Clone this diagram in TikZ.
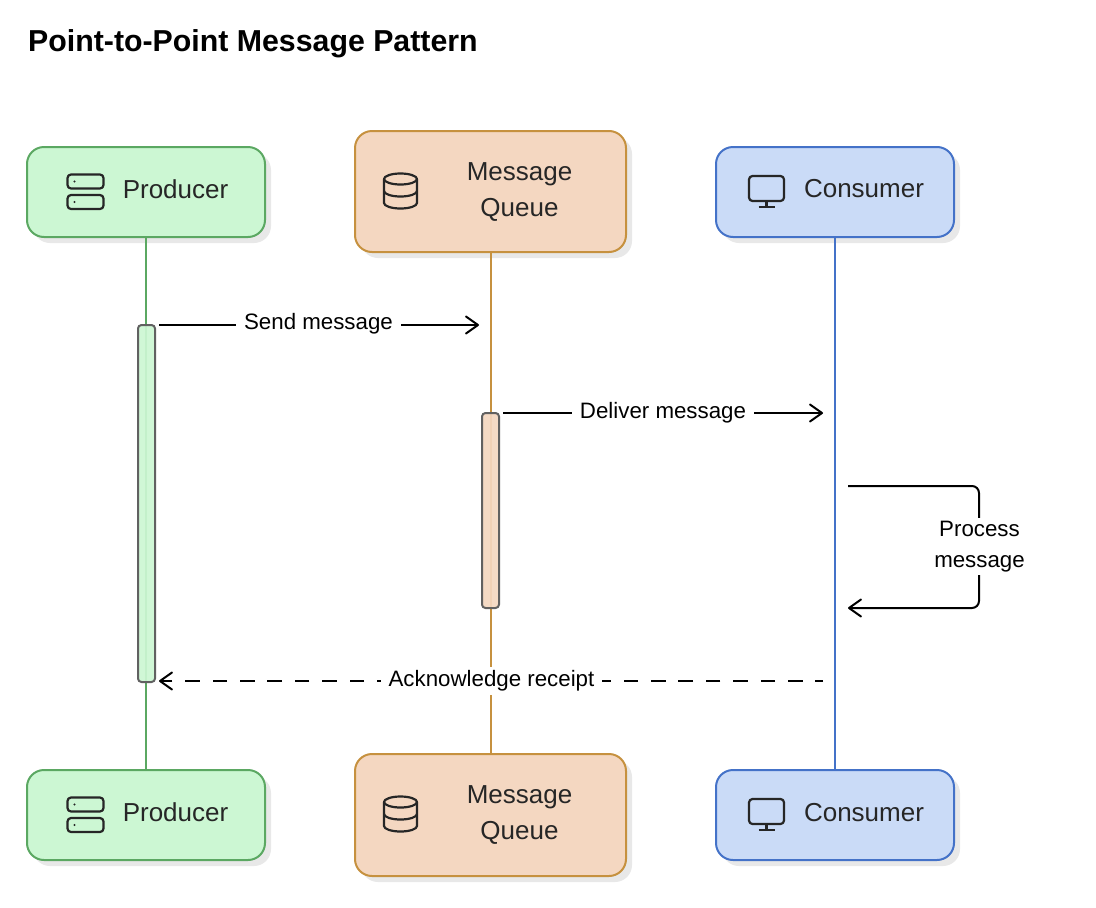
\documentclass[tikz,border=0pt]{standalone}
\usepackage{fontspec}
\setmainfont{Liberation Sans}
\usetikzlibrary{arrows.meta,positioning,calc}
\definecolor{gfill}{HTML}{CCF7D3}
\definecolor{gline}{HTML}{5BA862}
\definecolor{ofill}{HTML}{F4D7C1}
\definecolor{oline}{HTML}{C6913F}
\definecolor{bfill}{HTML}{CADBF7}
\definecolor{bline}{HTML}{4472C8}
\definecolor{ink}{HTML}{262626}
\definecolor{shade}{HTML}{E8E8E8}
\tikzset{
  x=1pt,y=-1pt,
  actor/.style={draw,line width=2pt,rounded corners=17pt,inner sep=0pt,
    minimum width=#1,anchor=center},
  actorshadow/.style={fill=shade,rounded corners=17pt,inner sep=0pt},
  lifeline/.style={line width=2pt},
  activation/.style={draw=black!62,line width=2pt,rounded corners=3.5pt,inner sep=0pt,
    minimum width=17pt,fill opacity=0.92,draw opacity=1},
  msg/.style={draw=black,line width=2pt,-{Straight Barb[round,length=12pt,width=17pt,line width=2pt]}},
  lbl/.style={fill=white,font=\fontsize{22.3pt}{31pt}\selectfont,text=black,inner xsep=8pt,inner ysep=3.5pt,align=center},
  atext/.style={font=\fontsize{26pt}{36pt}\selectfont,text=ink,inner sep=0pt,align=center},
  icon/.style={draw=ink,line width=2.2pt,line join=round},
  pics/servericon/.style={code={
    \draw[icon,rounded corners=3.5pt] (-18,-15.5) rectangle (18,-1.5);
    \draw[icon,rounded corners=3.5pt] (-18,5) rectangle (18,19);
    \fill[ink] (-11,-8.5) circle (1.2);
    \fill[ink] (-11,12) circle (1.2);
  }},
  pics/dbicon/.style={code={
    \draw[icon] (0,-12) ellipse [x radius=16.5,y radius=5.5];
    \draw[icon] (-16.5,-12) -- (-16.5,12) arc [start angle=180,end angle=0,x radius=16.5,y radius=5.5] -- (16.5,-12);
    \draw[icon] (-16.5,0) arc [start angle=180,end angle=0,x radius=16.5,y radius=5.5];
  }},
  pics/monitoricon/.style={code={
    \draw[icon,rounded corners=3.5pt] (-17.5,-13) rectangle (17.5,12);
    \draw[icon] (0,12) -- (0,18) (-8,18) -- (8,18);
  }},
}
\begin{document}
\begin{tikzpicture}
\useasboundingbox (0,0) rectangle (1096,908);
\fill[white] (0,0) rectangle (1096,908);

\node[font=\bfseries\fontsize{30.3pt}{34pt}\selectfont,anchor=west,inner sep=0pt,text=black] (title) at (28,44) {Point-to-Point Message Pattern};

% shadows
\fill[actorshadow] (33,153) rectangle (271,243);
\fill[actorshadow] (361,137) rectangle (632,258);
\fill[actorshadow] (722,153) rectangle (960,243);
\fill[actorshadow] (33,776) rectangle (271,866);
\fill[actorshadow] (361,760) rectangle (632,882);
\fill[actorshadow] (722,776) rectangle (960,866);

% actor boxes
\node[actor=238pt,draw=gline,fill=gfill,minimum height=90pt] (prodT) at (146,192) {};
\node[actor=271pt,draw=oline,fill=ofill,minimum height=121pt] (queueT) at (490.5,191.5) {};
\node[actor=238pt,draw=bline,fill=bfill,minimum height=90pt] (consT) at (835,192) {};
\node[actor=238pt,draw=gline,fill=gfill,minimum height=90pt] (prodB) at (146,815) {};
\node[actor=271pt,draw=oline,fill=ofill,minimum height=122pt] (queueB) at (490.5,815) {};
\node[actor=238pt,draw=bline,fill=bfill,minimum height=90pt] (consB) at (835,815) {};

% lifelines
\draw[lifeline,draw=gline] (prodT.south) -- (prodB.north);
\draw[lifeline,draw=oline] (queueT.south) -- (queueB.north);
\draw[lifeline,draw=bline] (consT.south) -- (consB.north);

% activations
\node[activation,fill=gfill,minimum height=357pt] (actP) at (146.5,503.5) {};
\node[activation,fill=ofill,minimum height=195pt] (actQ) at (490.5,510.5) {};

% labels in boxes
\node[atext] (tp) at (175.5,189) {Producer};
\node[atext] (tq) at (519.5,192) {Message\\Queue};
\node[atext] (tc) at (864,189) {Consumer};
\node[atext] (bp) at (175.5,812) {Producer};
\node[atext] (bq) at (519.5,815) {Message\\Queue};
\node[atext] (bc) at (864,812.5) {Consumer};

% icons
\pic at (85.5,190) {servericon};
\pic at (400.5,191) {dbicon};
\pic at (766.5,189) {monitoricon};
\pic at (85.5,813) {servericon};
\pic at (400.5,814) {dbicon};
\pic at (766.5,812) {monitoricon};

% message ends
\coordinate (s1) at (159,325);
\coordinate (e1) at (479,325);
\coordinate (s2) at (503,413);
\coordinate (e2) at (823,413);
\coordinate (s3) at (848,486);
\coordinate (c3a) at (979,486);
\coordinate (c3b) at (979,608);
\coordinate (e3) at (848,608);
\coordinate (s4) at (823,681);
\coordinate (e4) at (159,681);

\draw[msg] (s1) -- (e1);
\node[lbl] (l1) at (318.5,324) {Send message};
\draw[msg] (s2) -- (e2);
\node[lbl] (l2) at (663,412.5) {Deliver message};
\draw[msg,rounded corners=7pt] (s3) -- (c3a) -- (c3b) -- (e3);
\node[lbl] (l3) at (979.5,546.5) {Process\\message};
\draw[msg,dash pattern=on 14.7pt off 12.7pt,dash phase=7pt] (s4) -- (e4);
\node[lbl] (l4) at (491.5,681) {Acknowledge receipt};
\end{tikzpicture}
\end{document}
